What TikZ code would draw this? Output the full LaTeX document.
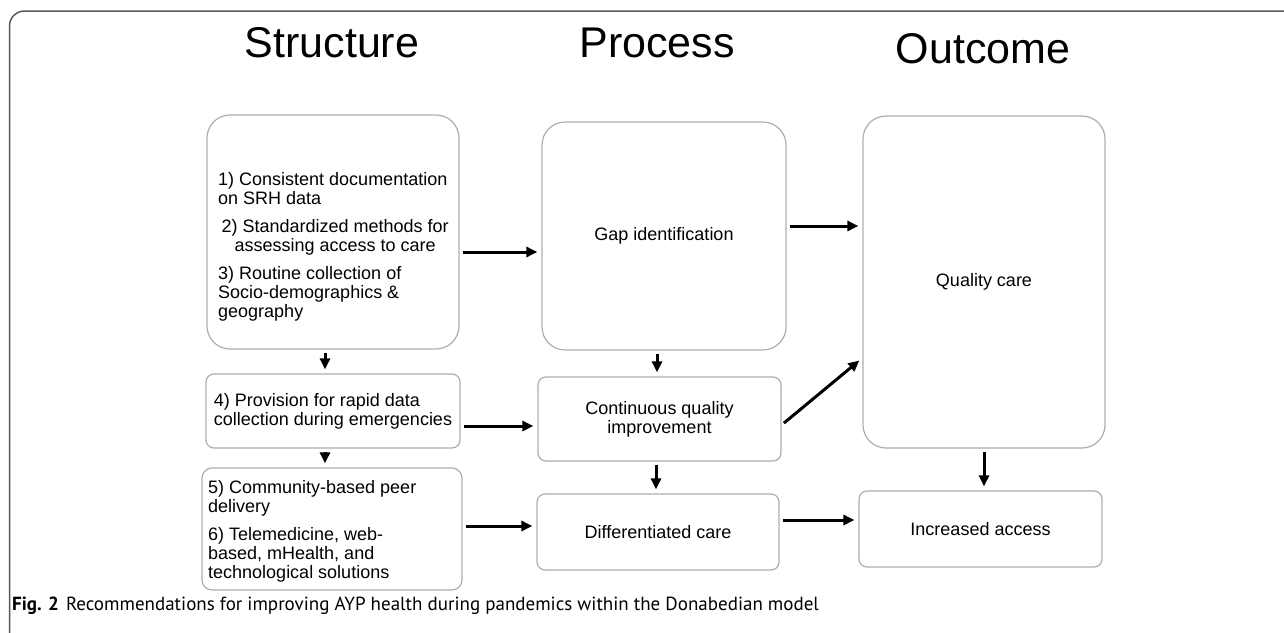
\documentclass[tikz,border=0pt]{standalone}
\usepackage{fontspec}
\setmainfont{Liberation Sans}
\newfontfamily\capfont{PT Sans}
\usetikzlibrary{arrows.meta}

\begin{document}
\begin{tikzpicture}[x=1pt,y=-1pt]
\tikzset{box/.style={draw=black!32, line width=1.2pt, rounded corners=8pt, inner sep=0pt, align=center, font=\fontsize{18}{19}\selectfont},
bigbox/.style={box, rounded corners=23pt},
txt/.style={inner sep=0pt, anchor=base west, font=\fontsize{18}{19}\selectfont},
head/.style={anchor=base, font=\fontsize{43}{46}\selectfont},
arr/.style={line width=3pt, shorten <=3pt, shorten >=4pt, -{Triangle[length=11pt,width=10pt]}}}
\useasboundingbox (0,0) rectangle (1284,632);
\clip (0,0) rectangle (1284,632);
\draw[black!65, line width=1.5pt, rounded corners=15pt] (9.5,11) rectangle (1320,680);
\node[head] (tS) at (332,57) {Structure};
\node[head] (tP) at (657,57) {Process};
\node[head] (tO) at (983,63) {Outcome};
\node[bigbox, minimum width=252pt, minimum height=234pt] (s1) at (333,232) {};
\node[bigbox, minimum width=244pt, minimum height=228pt] (p1) at (664,236) {Gap identification};
\node[bigbox, minimum width=242pt, minimum height=332pt] (o1) at (984,282) {Quality care};
\node[box, minimum width=254pt, minimum height=74pt, align=left] (s2) at (333,411) {4) Provision for rapid data\\collection during emergencies};
\node[box, minimum width=243pt, minimum height=84pt] (p2) at (659.5,419) {Continuous quality\\improvement};
\node[box, rounded corners=10pt, minimum width=260pt, minimum height=122pt] (s3) at (332,529) {};
\node[box, minimum width=242pt, minimum height=76pt] (p3) at (658,532) {Differentiated care};
\node[box, minimum width=243pt, minimum height=76pt] (o2) at (980.5,529) {Increased access};
\node[txt] (s1txt) at (218,185) {\begin{minipage}[t]{234pt}\raggedright
1) Consistent documentation\\on SRH data\par\vspace{9pt}
{\centering 2) Standardized methods for\\assessing access to care\par}\vspace{9pt}
3) Routine collection of\\Socio-demographics \&\\geography\end{minipage}};
\node[txt] (s3txt) at (208,493) {\begin{minipage}[t]{250pt}\raggedright
5) Community-based peer\\delivery\par\vspace{9pt}
6) Telemedicine, web-\\based, mHealth, and\\technological solutions\end{minipage}};
\node[inner sep=0pt, anchor=base west, font=\capfont\fontsize{19}{21}\selectfont] (cap) at (12,610) {\textbf{Fig. 2}\hspace{7pt}Recommendations for improving AYP health during pandemics within the Donabedian model};
\draw[arr] (s1.east |- 0,252) -- (p1.west |- 0,252);
\draw[arr] (p1.east |- 0,226) -- (o1.west |- 0,226);
\draw[arr] (s1.south -| 325,0) -- (s2.north -| 325,0);
\draw[arr] (p1.south -| 657,0) -- (p2.north -| 657,0);
\draw[arr] (s2.east |- 0,426) -- (p2.west |- 0,426);
\draw[arr] (p2.east |- 0,425) -- (o1.west |- 0,358);
\draw[arr] (s2.south -| 325,0) -- (s3.north -| 325,0);
\draw[arr] (p2.south -| 656,0) -- (p3.north -| 656,0);
\draw[arr] (s3.east |- 0,526) -- (p3.west |- 0,526);
\draw[arr] (p3.east |- 0,520) -- (o2.west |- 0,520);
\draw[arr] (o1.south -| 984,0) -- (o2.north -| 984,0);
\end{tikzpicture}
\end{document}
